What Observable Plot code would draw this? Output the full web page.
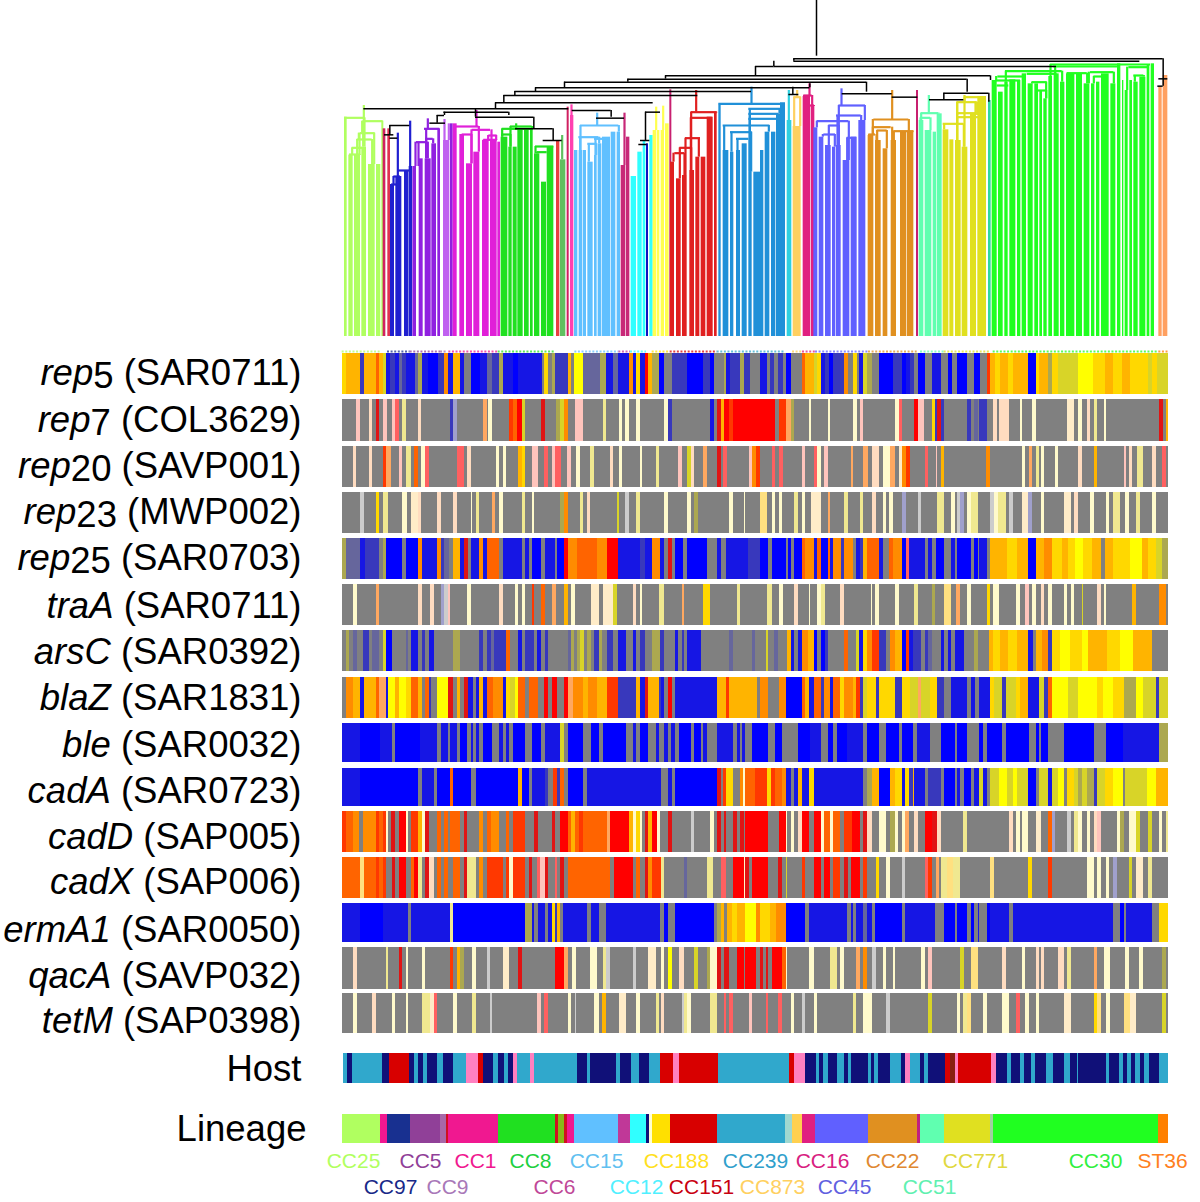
<!DOCTYPE html>
<html>
<head>
<meta charset="utf-8">
<script src="https://cdn.jsdelivr.net/npm/d3@7"></script>
<script src="https://cdn.jsdelivr.net/npm/@observablehq/plot@0.6"></script>
<style>html,body{margin:0;padding:0;background:#fff}svg{display:block}.soft{filter:blur(0.5px)}</style>
</head>
<body>
<div id="chart"></div>
<script>
// Position unit: third of a pixel from x=340 (two halves: left 0-1260, right continues at 1260).
const heatCodes = ["g","b","B","n","m","v","h","y","Y","a","o","O","R","r","d","s","p","k","l","e","j","f","t","c","q"];
const heatColors = ["#808080","#0000ff","#1616e4","#3838bc","#66669c","#aca850","#d8d428","#ffff00","#ffd800","#ffb400","#ff8c00","#ff6400","#ff3800","#ff0000","#e01414","#ff6060","#ffc4bc","#ffdcc0","#fffacc","#f0e890","#ffe080","#ffa860","#a0a0cc","#cccccc","#ffecc8"];

const hostCodes = ["H","N","D","P","M"];
const hostColors = ["#30a8cc","#101078","#d80000","#ff80c0","#882010"];

const lineageCodes = ["CC25","CC97","CC5","CC9","CC1","CC8","CC6","CC15","CC12","CC188","CC151","CC239","CC873","CC16","CC45","CC22","CC51","CC771","CC30","ST36","xRed","xOlive","xPink","xNavy","xPale","xTeal","xPurple","xMint"];
const lineageColors = ["#b0ff60","#183090","#904098","#a868a8","#f01890","#20e020","#c03898","#60c0ff","#30ffff","#ffe000","#d80000","#30a8cc","#ffd050","#e02080","#6060ff","#e09020","#60ffb0","#e0e020","#20ff20","#ff8000","#d01020","#88b818","#f01890","#101078","#ffffd0","#a0d8d0","#c02080","#a0d0a0"];

const labelCodes = ["lCC25","lCC97","lCC5","lCC9","lCC1","lCC8","lCC6","lCC15","lCC12","lCC188","lCC151","lCC239","lCC873","lCC16","lCC45","lCC22","lCC51","lCC771","lCC30","lST36"];
const labelColors = ["#b0ff60","#182888","#904098","#a878b8","#f01890","#20d040","#c04898","#60c0f0","#50f0ff","#ffe020","#c80010","#30a0cc","#ffd060","#d82080","#6060e0","#e08830","#60f0b0","#e0d840","#30f040","#ff8020"];

const treeCodes = ["T25","Tcr","Tcr2","T97","T5","T9","T1","T8","Tred","Tolv","Tpk","T15","T6","T12","Tnv","T188","Tcr3","T151","T239","Tcy","T873","T16","T45","T22","T51","T771","Tgc","T30","T36","K"];
const treeColors = ["#b0ff60","#d02060","#e03050","#2020d0","#9020e0","#c060f0","#e020d8","#20e020","#e84040","#60c060","#ff40b0","#60c0ff","#c82878","#30ffff","#1010c0","#ffff50","#c82070","#e02020","#2090d8","#30d0e0","#ffd060","#e02080","#6060ff","#e09020","#60ffb0","#e0e020","#30d8a0","#20ff20","#ffa060","#000000"];

const geneNames = ["rep","rep","rep","rep","rep","traA","arsC","blaZ","ble","cadA","cadD","cadX","ermA1","qacA","tetM"];
const geneDigits = ["5","7","20","23","25","","","","","","","","","",""];
const geneLoci = ["SAR0711","COL3629","SAVP001","MWP002","SAR0703","SAR0711","SAR0392","SAR1831","SAR0032","SAR0723","SAP005","SAP006","SAR0050","SAVP032","SAP0398"];
const rowTop = [353.3,399.3,445.7,491.7,537.7,584,630,676.7,723.3,767.7,810.7,856.7,903.3,947.3,993.3];
const rowBottom = [394.3,440.7,486.7,533.3,579.3,625,671,717.7,762.3,806,852,898.3,942.3,989,1033.3];
const rowLabelY = [373,420,466,512,558,606,652,698,745,791,837,882,930,976,1021];

const rowsLeft = [
"Y18 a60 n71 a108 O118 a128 h138 B150 n165 B177 m185 n197 B225 m235 v245 B265 b295 n313 o324 B338 a360 B372 g392 b420 B440 m455 n476 v488 B518 b535 B605 g613 Y625 g635 v645 n683 a693 g703 y730 m780 v798 B820 m835 B867 o878 B888 Y900 B915 r925 a936 v957 b972 g995 n1040 b1090 n1110 b1122 g1152 v1158 B1170 n1200 v1212 n1230 g1260",
"g48 p60 g87 k97 g107 d118 g128 p140 g155 p165 s177 g186 e197 g234 k244 g330 n340 t350 g429 f440 g445 l455 g508 R520 O532 r546 h556 g603 d614 g648 v660 h672 o684 g704 p730 g788 e799 g836 l846 g856 l867 g888 l899 g973 l984 n995 g1110 B1122 g1130 d1142 a1153 r1168 R1180 r1260",
"g39 k49 g87 k97 g128 R138 f154 g176 p186 g198 e213 g222 O234 g244 l255 s266 g350 s372 g382 k392 g467 l477 g488 l498 g534 a546 Y556 g576 p593 g613 s625 g636 p646 s662 g682 p693 g708 l719 g751 e762 g810 k820 g836 l846 g900 l905 g947 e957 g1015 p1027 g1040 h1052 k1063 g1088 f1100 g1130 d1142 g1150 s1160 g1228 p1236 o1248 R1260",
"g60 c72 g107 Y118 g128 e144 g186 l202 g212 q234 k244 g292 k302 g339 k350 g393 l397 g407 e418 g455 f466 g476 l488 g545 e556 g576 l581 g660 v672 o684 g720 e730 g741 k751 g830 h836 g856 c867 g888 e901 g973 l984 g1042 l1052 g1062 v1073 g1168 l1179 g1212 l1216 g1260",
"v18 m60 B75 n118 g128 v138 b186 g197 b234 o245 B292 o302 n313 m328 g339 a360 B372 d383 g392 B418 o428 B440 O476 g488 B545 g556 B567 g577 b604 g615 B645 g652 b672 r684 o710 O770 o800 r835 B900 n915 B936 o960 B972 g984 d995 g1005 b1030 g1042 b1100 g1130 B1142 g1158 B1225 n1260",
"g39 l50 g108 f118 g234 k245 g271 k282 g303 t313 c323 p330 g382 l393 g477 k488 g525 l535 g546 l556 g575 R583 g603 O616 g636 f647 g672 a684 g694 l704 g752 q778 g788 q820 h830 g880 k888 g900 l905 g958 e972 g1026 f1032 g1090 Y1110 g1190 e1200 g1260",
"g18 v28 g38 m50 g70 n87 g96 m118 g128 h139 b155 g197 m203 g212 B234 g245 n255 g266 B282 g339 v360 g418 n430 g440 n452 m462 n498 O510 g533 B546 g556 n582 g592 B604 g614 n625 g685 m693 v703 g710 v720 h731 g741 v752 g762 n776 v787 g800 n820 g835 B857 g878 B888 g900 n915 g936 v960 n972 g1005 B1015 g1026 n1032 g1042 B1084 g1168 m1179 g1236 m1246 g1260",
"g18 o40 a60 B71 a108 O118 f139 B144 y166 a177 y198 Y212 O234 a245 g255 O266 n272 g292 y324 d339 g350 a361 g372 d383 B398 g408 B418 a430 B440 O460 o488 B498 Y510 h524 y534 O556 g566 O593 g613 r625 g636 r652 g672 r684 f700 o730 a745 o770 a800 R835 n888 a900 B915 d925 a957 n962 B972 g984 r995 g1005 B1130 a1158 R1168 a1250 g1260",
"B60 b120 B155 g165 b240 B292 g302 B324 g330 B350 g361 b382 g392 B398 g407 B418 g430 b456 g477 B488 g498 B508 g518 b556 g577 b604 g614 B660 h672 g684 b730 g752 b778 g788 b857 g878 B888 g900 b925 g947 B957 g972 B984 g994 B1005 g1016 b1052 g1062 b1084 g1090 B1100 g1130 B1180 g1190 B1200 g1205 B1216 g1236 b1260",
"B60 b234 g245 B282 g292 b329 O340 b393 g407 b535 a546 b567 g577 B614 n625 g640 R650 n660 O673 g683 b730 g740 B963 g984 B995 g1005 b1130 d1142 g1148 R1158 Y1180 g1200 o1210 l1216 O1245 R1260",
"R18 O40 o58 g70 o108 R118 O128 R139 l144 g154 d166 g176 r198 l203 g213 R234 a245 l255 d266 g291 O303 g313 O324 g330 O360 g371 d382 g418 o430 g440 O454 o476 g497 O508 g518 R556 g582 d593 g635 d646 g660 r684 O694 a704 O718 R730 O800 f810 r868 a878 l888 Y900 l905 g915 d925 a936 r950 l960 g983 d995 g1052 c1062 g1110 l1121 g1130 d1142 g1152 d1158 g1178 d1190 g1200 d1212 g1216 r1260",
"O60 j71 O108 R118 O128 R139 g155 d166 g177 r198 g212 O222 r234 e245 g255 d268 k282 g292 O303 g313 O324 g339 O360 g371 d382 e407 g418 o430 g440 R488 g497 R508 l520 R556 g567 d577 g592 s600 p614 d625 g645 s651 g660 d672 g684 O810 g821 r878 g888 O900 g915 d925 o936 R962 e972 g1032 m1042 g1100 e1120 g1142 s1158 g1179 r1212 l1216 d1228 g1236 r1260",
"B60 b130 B203 g213 B330 e339 b556 v577 B582 g593 B614 g625 B636 Y646 n652 a660 g670 B740 g752 B777 g799 B960 g972 b984 g1005 b1121 g1130 v1142 a1153 g1160 a1175 Y1190 a1215 y1248 o1260",
"g39 k50 g139 e144 g176 d187 g198 l203 g245 l255 g329 R340 g350 a360 v372 g397 l408 g440 c450 g488 q508 g534 d546 g645 r672 f684 g695 l709 g751 l772 g788 e798 c810 g878 c888 g925 q947 g963 l973 g984 y995 g1016 k1032 g1062 h1073 g1100 v1110 l1130 d1142 g1152 d1168 g1190 r1212 g1216 r1248 g1260",
"g39 l50 g97 k107 g155 l165 g197 l203 g245 e270 q282 s292 g340 l350 g397 e408 g450 c456 g592 p603 g613 s625 g683 l693 g704 c709 g762 l777 g787 a799 g836 q857 g888 l899 g947 e958 g963 k973 g1026 c1032 e1042 l1052 g1110 e1132 g1152 s1158 g1168 s1180 g1226 p1237 g1260"
];

const rowsRight = [
"B22 g30 n42 g55 n68 g78 b93 g125 O135 a162 h172 Y183 B195 n208 b220 n252 o264 g278 Y290 g298 B310 h322 v335 g357 b400 n425 b437 B450 n462 g473 b495 g516 B542 g563 b575 g590 b622 g642 b660 g680 R690 a705 Y720 a745 Y758 a805 b828 Y838 a863 v875 Y895 h955 y1000 Y1035 a1060 Y1085 a1110 Y1165 h1175 Y1190 h1224",
"r46 g57 R78 f93 v103 g147 l152 g204 l210 g279 l290 g300 p310 g406 l416 s426 g462 r474 p492 g516 Y526 n531 d543 n553 g620 n632 g642 m654 g658 n680 g700 k712 g718 k748 g780 l786 g817 l827 g922 q943 g954 l965 g980 k990 g1002 e1012 g1033 l1038 g1197 d1210 g1218 a1224",
"g36 s46 g56 s68 g125 p135 g162 s172 l183 g193 p204 g272 f280 g310 f325 g335 k357 g368 l390 f405 g416 q426 o437 R449 g494 s505 g527 p532 g542 a553 g678 o690 g785 l795 g806 f817 g827 e838 g843 l853 g885 l895 g953 k965 g1002 a1012 g1092 p1098 g1107 k1117 g1130 e1150 g1176 k1187 g1206 s1219 g1224",
"j22 g36 l46 g56 l67 g103 e115 g125 l136 g152 q183 g204 f210 g252 e263 g300 e310 g336 k347 g368 l378 g388 l400 g426 t437 g474 c484 g530 e553 g574 l585 g590 c600 t612 g622 l632 e653 g690 c702 l714 e738 g748 c758 g785 q805 t816 g842 l853 g912 q932 g943 k954 g990 l1002 g1038 l1048 g1060 e1080 g1096 l1107 g1128 e1139 g1176 l1187 g1224",
"b24 g36 b78 g83 b93 g103 b125 O135 o162 B172 O183 b204 O210 B220 o242 n252 o278 g288 B300 n310 a322 O358 B368 g388 O400 o426 b437 s447 B495 g505 B517 g527 b553 g573 B585 g590 b632 g642 b654 g658 B680 g690 a702 a740 Y770 a805 b828 a853 o875 Y906 a925 Y945 y968 Y995 a1022 g1035 a1060 Y1110 y1145 a1165 Y1187 h1206 v1224",
"g22 e35 g57 l68 g103 k114 g146 l151 g172 l182 e194 g241 k252 g332 l337 g346 l357 g405 l416 g462 e474 g516 v526 g552 j574 g589 f601 g621 l632 g680 Y690 g700 l716 g769 l780 g795 p806 g816 l827 g842 k853 g864 l875 g912 l922 g933 l943 g965 h970 g1012 k1022 g1033 l1038 g1117 a1128 g1197 o1218 g1224",
"g18 h23 g42 m54 g82 a93 B103 g113 B125 o145 a162 b172 g183 b195 n205 g252 O263 g288 h298 B310 Y321 o336 R357 n378 g389 o405 a426 b437 R447 B458 n484 g495 n505 m516 g542 B553 g563 B574 g584 B611 g641 v653 g686 a700 Y720 a745 Y770 a805 B818 g828 a845 o863 n875 Y900 y930 Y965 y985 a1040 Y1080 y1120 a1176 g1224",
"o24 g56 o78 b125 O135 a147 B161 O183 n193 o210 B220 O241 Y252 o278 a288 R300 n310 h322 Y347 n358 Y405 n426 Y450 h474 f484 h510 Y532 n553 g574 B622 g632 B644 g656 B690 Y702 h726 n738 h768 Y780 a805 B837 h853 n864 O875 y925 h953 y1010 Y1030 y1060 Y1092 v1128 y1150 h1187 n1197 h1224",
"b24 g46 b67 g114 b150 B182 g204 b220 g230 b260 B310 g320 b358 g378 b416 g426 b458 g472 B510 g542 b585 g590 b621 g658 b670 g680 b727 g738 b806 g827 b838 g843 b864 g912 b1002 g1038 b1090 B1197 v1224",
"R22 Y34 R46 O67 o78 B93 g103 B114 a125 B146 Y162 B310 g322 v335 a357 b389 a404 Y425 B436 Y447 n458 a463 B495 g505 n542 g553 b585 g590 B600 g612 b632 g642 B658 h668 B680 g690 h716 y740 h758 y770 h805 b828 g838 h864 B875 h895 y911 g922 Y943 h953 v965 h980 v1002 n1012 h1035 Y1060 y1090 g1096 h1160 y1187 a1224",
"r24 g57 r78 l82 g93 l103 g114 k125 r147 g161 r183 l192 O210 l220 O241 g252 R277 r300 g309 d320 k336 g357 l378 g390 v404 l415 g426 l434 f447 g462 k474 g494 r516 d530 k542 g610 e621 g748 k758 g769 l780 g785 l805 g827 q842 g863 O875 t885 g922 c933 g943 e953 l965 g980 l990 g1002 k1012 p1022 g1070 l1080 v1092 g1107 l1128 h1139 g1165 h1176 g1197 l1207 g1218 e1224",
"r24 g55 d67 g78 h82 g125 R136 g161 r183 g193 r210 g220 R241 g252 d264 g274 r299 g309 R322 g347 Y358 g378 l389 g426 c436 g494 s505 R516 g527 f537 g542 e560 j580 e600 g690 j701 g805 Y816 g864 R875 g981 l1002 g1012 l1022 g1038 l1048 g1060 t1071 g1107 h1117 g1128 q1150 g1165 e1176 g1224",
"Y30 a47 o78 b135 g147 B262 g272 B280 g289 B310 m321 B336 g346 b426 g436 B525 g552 b585 g590 b621 g632 b642 g653 B658 g680 b690 B748 g758 B1060 g1080 b1092 g1097 B1176 g1197 Y1224",
"d9 g19 d24 g36 r66 O78 l82 g146 l161 g210 e230 g241 l252 g289 f299 g309 o320 g336 c347 g368 l378 g400 l405 g484 l495 g505 p516 g600 h612 g632 j653 g727 k737 g785 l795 g827 k837 g842 k853 g895 k911 g922 e933 g1002 f1012 g1033 l1049 g1096 l1106 g1138 l1149 g1207 v1218 g1224",
"g18 s24 g55 s67 g93 l103 g125 c136 g162 l172 g279 e289 g310 l336 g378 c389 g505 h516 g590 l600 g610 e621 j632 g669 l680 g727 l748 g767 s780 g795 l806 g827 l837 g912 q933 g1002 Y1012 j1022 g1038 l1049 g1092 j1110 q1128 g1207 h1218 g1224"
];

const hostRuns = "H20 N35 H126 N148 D207 N223 H235 N250 H262 N292 H308 N338 H378 P413 D428 N458 H475 N492 H503 N518 P532 H570 P582 H710 N740 H750 N827 H839 N873 H898 N926 H960 D1000 P1016 D1134 H1346 D1362 P1394 N1427 H1438 N1450 H1463 N1491 H1512 N1524 H1534 N1585 H1593 N1603 H1615 N1650 H1682 N1694 P1711 H1740 N1751 H1765 N1816 D1830 M1845 P1855 D1954 P1968 N2001 H2012 N2040 H2051 N2074 H2085 N2118 H2138 N2171 H2190 N2210 H2214 N2298 H2306 N2336 H2348 N2362 H2373 N2386 H2399 N2413 H2426 N2457 H2484";
const lineageRuns = "CC25:120 xPink:141 CC97:209 CC5:300 CC9:318 xRed:325 CC1:473 CC8:645 xRed:653 xOlive:672 xRed:682 xPink:703 CC15:835 CC6:870 CC12:918 xNavy:927 xPale:935 CC188:989 CC151:1130 CC239:1335 xTeal:1356 CC873:1386 CC16:1425 CC45:1584 CC22:1730 xPurple:1740 CC51:1811 CC771:1949 xMint:1958 CC30:2455 ST36:2484";

const labelNames = ["CC25","CC5","CC1","CC8","CC15","CC188","CC239","CC16","CC22","CC771","CC30","ST36","CC97","CC9","CC6","CC12","CC151","CC873","CC45","CC51"];
const labelCentres = [353,420,475,530,596,676,755,822,892,975,1095,1162,390,447,554,636,701,772,844,929];
const labelRow = [0,0,0,0,0,0,0,0,0,0,0,0,1,1,1,1,1,1,1,1];

// Dendrogram read in position units; heights in thirds of a pixel from y=40.
const leafBlocks = [
["T25",12,20,230],["T25",25,38,345],["T25",42,60,345],["T25",64,78,320],["T25",84,104,372],["T25",108,121,372],["T25",124,130,242],
["Tcr",128,136,265],["Tcr2",142,150,265],
["T97",150,162,432],["T97",166,184,408],["T97",192,205,390],["T97",206,216,378],
["T5",217,228,378],["T5",236,248,355],["T5",254,272,355],["T5",274,288,310],["T5",292,300,265],
["T9",309,328,300],["T5",330,338,250],
["T1",338,350,250],["T1",358,372,282],["T1",378,396,370],["T1",400,418,335],["T1",426,446,300],["T1",450,470,300],["T1",472,480,305],
["T8",482,502,290],["T8",505,515,320],["T8",518,530,320],["T8",532,548,265],["T8",552,566,265],["T8",570,578,265],["T8",582,598,340],["T8",603,618,425],["T8",620,640,318],
["Tred",648,658,300],["Tolv",660,676,358],["Tcr",680,686,200],["Tpk",690,700,225],
["T15",702,712,330],["T15",716,726,330],["T15",728,738,330],["T15",742,758,365],["T15",762,770,345],["T15",773,784,310],["T15",786,810,290],["T15",812,826,275],["T15",830,840,275],
["T6",842,856,375],["T6",858,868,290],
["T12",872,888,408],["T12",892,905,335],["T12",908,916,300],["Tnv",918,924,310],["T12",928,938,285],
["T188",938,948,270],["T188",950,958,270],["T188",962,972,270],["T188",975,986,250],
["Tcr3",988,994,148],
["T151",990,1002,365],["T151",1008,1022,415],["T151",1026,1040,405],["T151",1048,1062,390],["T151",1066,1078,350],["T151",1082,1096,350],["T151",1100,1118,230],["T151",1122,1130,218],
["T239",1135,1142,195],["T239",1148,1165,330],["T239",1170,1180,335],["T239",1188,1200,330],["T239",1205,1220,310],["T239",1225,1235,395],["T239",1240,1260,395]
];
const hBars = [
["T25",12,72,232],["T25",68,128,242],["T25",60,104,278],["T25",50,95,297],["T25",35,68,322],["T25",27,60,342],
["T97",172,212,390],["T97",160,180,408],["T97",153,170,432],
["T5",228,262,305],["T5",252,298,265],["T5",255,278,295],
["T1",345,415,258],["T1",395,450,268],["T1",365,395,282],["T1",430,470,298],["T1",445,470,285],
["T8",485,578,265],["T8",510,575,258],["T8",485,510,282],["T8",585,640,318],["T8",590,620,335],
["T15",720,835,255],["T15",715,775,290],["T15",762,805,295],["T15",742,770,310],
["T151",1052,1130,215],["T151",1050,1115,232],["T151",1035,1080,293],["T151",1018,1052,322],["T151",1003,1032,338],
["T239",1135,1335,190],["T239",1225,1320,205],["T239",1225,1315,220],["T239",1225,1310,235],["T239",1148,1288,255],["T239",1170,1235,275],["T239",1188,1225,295],
["T873",1360,1382,170],["T16",1390,1415,165],["T16",1406,1422,195],
["T45",1430,1525,242],["T45",1495,1575,195],["T45",1488,1562,225],["T45",1520,1548,292],["T45",1450,1485,282],["T45",1465,1495,255],
["T22",1600,1705,237],["T22",1598,1652,260],["T22",1585,1605,282],["T22",1610,1640,270],["T22",1660,1720,272],
["T51",1742,1795,218],["T51",1740,1770,232],
["T771",1872,1935,170],["T771",1850,1910,218],["T771",1808,1870,250],["T771",1850,1920,230],["T771",1850,1910,185],
["T30",1972,2050,108],["T30",1995,2165,92],["T30",1968,2040,120],["T30",1970,2005,135],["T30",2060,2150,100],["T30",2075,2120,125],["T30",2090,2120,150],["T30",2140,2340,78],["T30",2130,2430,72],["T30",2180,2240,98],["T30",2250,2320,95],["T30",2260,2300,108],["T30",2380,2410,105],["T30",2365,2425,80]
];
const vBars = [
["T25",70,195,242],["T25",65,242,278],["T25",55,278,297],["T97",172,278,390],["T97",209,242,378],
["T5",262,235,265],["T5",234,305,378],["T9",312,237,300],["T9",325,250,300],
["T1",408,210,258],["T8",527,250,265],["Tolv",665,285,358],["Tpk",693,193,225],
["T15",770,218,255],["T6",852,218,375],["T188",947,200,270],["T188",968,197,270],
["T151",1067,150,215],["T239",1233,140,190],["Tcy",1345,150,240],["T873",1370,150,170],
["T16",1407,130,165],["T45",1503,145,195],["T22",1655,150,237],["T51",1765,165,218],["T771",1872,165,185],["T771",1850,185,225],["T771",1910,185,225]
];
const blackH = [
[132,160,283],[148,172,293],[148,208,255],[268,315,248],[290,312,225],[310,505,215],[405,580,230],
[70,685,205],[525,638,265],[608,665,300],[695,812,210],[768,852,233],[900,928,300],[895,920,312],[915,960,215],
[465,938,187],[490,1072,165],[523,1233,153],[585,1408,142],[672,1578,125],[862,1880,116],[975,1950,106],[1245,1300,78],[1300,2148,78],[1360,2468,55],[1360,2398,62],
[1345,1375,162],[1505,1655,160],[1655,1732,170],[1767,1870,178],[1810,1945,158],[2455,2482,115],[2452,2468,137]
];
const blackV = [
[148,255,285],[290,225,248],[312,215,225],[505,215,225],[580,230,265],[405,205,230],[638,265,300],[812,210,230],[915,215,300],
[465,187,205],[490,165,187],[523,153,165],[585,142,153],[672,125,142],[862,116,125],[975,106,116],[1245,78,106],[1300,62,78],[1360,55,62],
[1357,140,162],[1578,125,155],[1880,116,155],[1950,106,120],[1945,158,185],[1810,158,178],[2468,55,137],[1408,130,142]
];
const rootStem = [1428,-120,47];
const rightBlocks = [
["T239",0,10,330],["T239",14,28,275],["T239",33,46,275],["T239",48,60,220],["T239",60,75,187],
["Tcy",80,94,240],["T873",98,122,258],["T16",128,150,168],["T16",152,163,198],
["T45",160,172,262],["T45",176,190,290],["T45",195,212,315],["T45",216,226,320],["T45",228,242,315],["T45",248,268,360],["T45",272,290,290],["T45",295,316,240],
["T22",323,340,285],["T22",345,362,300],["T22",368,382,325],["T22",392,408,300],["T22",420,438,275],["T22",440,460,275],["Tcr3",468,474,150],
["T51",476,490,240],["T51",494,514,270],["T51",518,528,275],["T51",530,545,220],
["T771",548,565,268],["T771",568,580,298],["T771",585,602,300],["T771",605,622,320],["T771",630,648,222],["T771",652,678,168],["Tgc",684,692,180],
["T30",695,710,120],["T30",714,728,155],["T30",733,743,125],["T30",748,766,118],["T30",771,781,120],["T30",785,798,100],["T30",803,818,130],["T30",823,834,130],["T30",838,846,150],["T30",850,860,175],["T30",865,876,108],["T30",881,896,100],["T30",900,913,125],["T30",918,943,100],["T30",948,966,100],["T30",971,988,130],["T30",993,1003,130],["T30",1008,1018,125],["T30",1023,1046,100],["T30",1051,1066,130],["T30",1071,1081,70],["T30",1086,1090,120],["T30",1094,1103,150],["T30",1108,1116,120],["T30",1120,1133,125],["T30",1138,1156,110],["T30",1160,1168,75],["T30",1172,1182,70],
["T36",1195,1205,140],["T36",1208,1222,105]
];

// Expand run strings into cells.
const parseRuns = (text, start, offset) => {
  let from = start;
  return text.split(" ").map(t => {
    const to = +t.slice(1);
    const c = {code: t[0], x1: from + offset, x2: to + offset};
    from = to;
    return c;
  });
};
const heatCells = [];
rowsLeft.forEach((row, i) => {
  for (const c of parseRuns(row, 7, 0)) heatCells.push({...c, y1: rowTop[i], y2: rowBottom[i]});
  for (const c of parseRuns(rowsRight[i], 0, 1260)) heatCells.push({...c, y1: rowTop[i], y2: rowBottom[i]});
});
const hostCells = parseRuns(hostRuns, 8, 0);
let lastLin = 5;
const lineageCells = lineageRuns.split(" ").map(t => {
  const [code, end] = t.split(":");
  const c = {code, x1: lastLin, x2: +end};
  lastLin = +end;
  return c;
});
const pxToPos = px => (px - 340) * 3;
const treeY = v => 40 + v / 3;
const blocks = leafBlocks.concat(rightBlocks.map(b => [b[0], b[1] + 1260, b[2] + 1260, b[3]]));
// Each clade bar drops to the leaf block under its two ends.
const dropLines = hBars.flatMap(h => [h[1], h[2]].map(x => {
  const b = d3.least(blocks.filter(k => k[0] === h[0]), k => x < k[1] ? k[1] - x : x > k[2] ? x - k[2] : 0);
  return b && b[3] > h[3] ? [h[0], Math.min(Math.max(x, b[1] + 3), b[2] - 3), h[3], b[3]] : null;
})).filter(Boolean);
const allColors = [...heatCodes, ...hostCodes, ...lineageCodes, ...labelCodes, ...treeCodes];
const allRange = [...heatColors, ...hostColors, ...lineageColors, ...labelColors, ...treeColors];
const dots = lineageCells.filter(d => !d.code.startsWith("x"));
const textRows = geneNames.map((g, i) => ({g, digit: geneDigits[i], locus: geneLoci[i], y: rowLabelY[i]}));
const legendLabels = labelNames.map((name, i) => ({name, x: pxToPos(labelCentres[i]), row: labelRow[i]}));

const plot = Plot.plot({
  width: 1200, height: 1202,
  margin: 0,
  style: {fontFamily: "'Liberation Sans', Arial, sans-serif", background: "#fff"},
  x: {domain: [0, 2580], range: [340, 1200], axis: null},
  y: {domain: [0, 1202], range: [0, 1202], axis: null},
  color: {type: "ordinal", domain: allColors, range: allRange},
  marks: [
    Plot.rect(blocks, {x1: d => d[1], x2: d => d[2], y1: d => treeY(d[3]), y2: () => treeY(888), fill: d => d[0], className: "soft"}),
    Plot.ruleX(dropLines.concat(vBars), {x: d => d[1], y1: d => treeY(d[2]), y2: d => treeY(d[3]), stroke: d => d[0], strokeWidth: 2.2, className: "soft"}),
    Plot.ruleY(hBars, {x1: d => d[1], x2: d => d[2], y: d => treeY(d[3]), stroke: d => d[0], strokeWidth: 2.2, className: "soft"}),
    Plot.ruleY(blackH, {x1: d => d[0], x2: d => d[1], y: d => treeY(d[2]), stroke: "#000", strokeWidth: 1.5}),
    Plot.ruleX(blackV, {x: d => d[0], y1: d => treeY(d[1]), y2: d => treeY(d[2]), stroke: "#000", strokeWidth: 1.5}),
    Plot.ruleX([rootStem], {x: d => d[0], y1: d => treeY(d[1]), y2: d => treeY(d[2]), stroke: "#000", strokeWidth: 1.5}),
    Plot.ruleY(dots, {x1: "x1", x2: "x2", y: () => 351, stroke: "code", strokeWidth: 2, strokeDasharray: "2 1.6", strokeOpacity: 0.75}),
    Plot.rect(heatCells, {x1: "x1", x2: "x2", y1: "y1", y2: "y2", fill: "code", className: "soft", shapeRendering: "crispEdges"}),
    Plot.rect(hostCells, {x1: "x1", x2: "x2", y1: () => 1053.3, y2: () => 1083.3, fill: "code", shapeRendering: "crispEdges"}),
    Plot.rect(lineageCells, {x1: "x1", x2: "x2", y1: () => 1114, y2: () => 1143.3, fill: "code", shapeRendering: "crispEdges"}),
    Plot.text(textRows, {x: () => pxToPos(301), y: "y", text: d => `${d.g}${d.digit} (${d.locus})`, textAnchor: "end", fontSize: 36.5, fill: "#000", className: "rowlabel"}),
    Plot.text(["Host"], {x: () => pxToPos(301), y: () => 1069, textAnchor: "end", fontSize: 36.5, fill: "#000"}),
    Plot.text(["Lineage"], {x: () => pxToPos(306), y: () => 1129, textAnchor: "end", fontSize: 36.5, fill: "#000"}),
    Plot.text(legendLabels, {x: "x", y: d => d.row ? 1187 : 1161, text: "name", textAnchor: "middle", fontSize: 21, fill: d => "l" + d.name})
  ]
});
// Style the row labels: gene name italic, replicon digit lowered.
plot.querySelectorAll(".rowlabel text").forEach((node, i) => {
  const r = textRows[i];
  node.textContent = "";
  const add = (s, italic, dy) => {
    const t = document.createElementNS("http://www.w3.org/2000/svg", "tspan");
    t.textContent = s;
    if (italic) t.setAttribute("font-style", "italic");
    if (dy) t.setAttribute("dy", dy);
    node.appendChild(t);
  };
  add(r.g, true);
  if (r.digit) { add(r.digit, false, 3); add(` (${r.locus})`, false, -3); }
  else add(` (${r.locus})`, false);
});
document.getElementById("chart").appendChild(plot);
</script>
</body>
</html>
